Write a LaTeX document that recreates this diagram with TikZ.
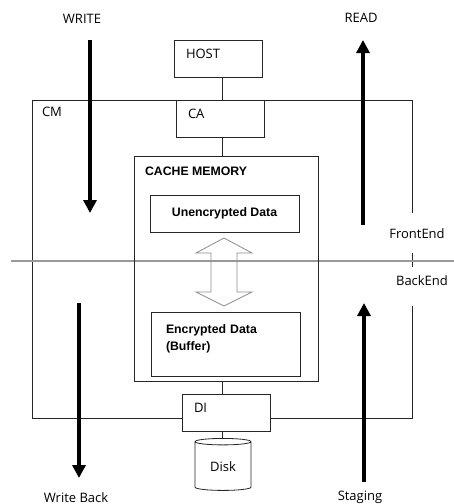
\documentclass[tikz,border=0pt]{standalone}
\usepackage{fontspec}
\setmainfont{Open Sans}
\newfontfamily\memfont{Liberation Sans}
\usetikzlibrary{arrows.meta,positioning,shapes.geometric}

\tikzset{
    wire/.style={line width=0.8pt, draw=black!85},
    lbl/.style={font=\fontsize{13}{15}\selectfont, inner sep=0pt, anchor=base},
    unit/.style={wire, fill=white, minimum width=88pt, minimum height=37pt, text width=64pt,
        inner xsep=12pt, align=left, text height=9pt, text depth=9pt,
        font=\fontsize{13}{15}\selectfont},
    membox/.style={wire, font=\memfont\bfseries\fontsize{12.3}{17}\selectfont},
    drum/.style={wire, fill=white, cylinder, shape border rotate=90, aspect=0.2,
        minimum width=56pt, minimum height=52pt, font=\fontsize{13}{15}\selectfont},
    flow/.style={line width=4.5pt, -{Triangle[length=13pt,width=13pt]}},
    hollow/.style={line width=0.8pt, draw=black!45, line join=miter},
    split/.style={line width=1.3pt, draw=black!40}
}

\begin{document}
\begin{tikzpicture}[x=1pt, y=-1pt]
    \useasboundingbox (0,0) rectangle (454,504);
    % \draw[white] (0,0) grid (454,504);
    \foreach \n/\x/\y in {
        axis/222/0,
        cmnw/32/100.5, cmne/412/100.5, cmsw/32/418, cmse/412/418,
        frontcut/412/213, backcut/412/306, ticka/412/253, tickb/412/267,
        splitl/11/261, splitr/454/261,
        wtop/90/40, wbot/90/213,
        rbot/363/225, rtop/363/40,
        bbtop/79/303, bbbot/79/478,
        stgbot/364/482, stgtop/364/303
    }{
        \coordinate (\n) at (\x,\y);
    }

    % CM frame, open on the right
    \draw[wire] (frontcut) -- (cmne) -- (cmnw) -- (cmsw) -- (cmse) -- (backcut);
    \draw[wire] (ticka) -- (tickb);
    \draw[split] (splitl) -- (splitr);

    \node[unit] (host) at (218,58.5) {HOST};
    \node[unit] (ca) at (220,118.5) {CA};
    \node[unit] (di) at (226,412.5) {DI};
    \node[membox, minimum width=184pt, minimum height=225pt] (cache) at (226,268.5) {};
    \node[membox, draw=none, inner sep=0pt, anchor=north west] (cachelbl)
        at ([shift={(11pt,-11pt)}]cache.north west) {CACHE MEMORY};
    \node[membox, minimum width=149pt, minimum height=37pt] (plain) at (224.5,213.5) {Unencrypted Data};
    \node[membox, minimum width=149pt, minimum height=64pt, text width=119pt, inner xsep=15pt,
        align=left, text height=9.5pt, text depth=31.5pt] (crypt) at (225.5,344) {Encrypted Data\\(Buffer)};
    \node[drum] (disk) at (223,467) {Disk};

    \draw[wire] (host.south -| axis) -- (ca.north -| axis);
    \draw[wire] (ca.south -| axis) -- (cache.north -| axis);
    \draw[wire] (cache.south -| axis) -- (di.north -| axis);
    \draw[wire] (di.south -| axis) -- (disk.north -| axis);

    % hollow two-way arrow
    \draw[hollow] (224,238) -- (196,253) -- (211,253) -- (211,292) -- (196,292) -- (224,306)
        -- (252,292) -- (237,292) -- (237,253) -- (252,253) -- cycle;

    \foreach \a/\b in {wtop/wbot, rbot/rtop, bbtop/bbbot, stgbot/stgtop}{
        \draw[flow] (\a) -- (\b);
    }

    % text using foreach loop
    \foreach \n/\x/\y/\t in {
        write/82/23/WRITE,
        read/361/22/READ,
        cm/52/116/CM,
        front/417/238/FrontEnd,
        back/422/285/BackEnd,
        wback/76/502/Write Back,
        staging/360/500/Staging
    }{
        \node[lbl] (\n) at (\x,\y) {\t};
    }
\end{tikzpicture}
\end{document}
